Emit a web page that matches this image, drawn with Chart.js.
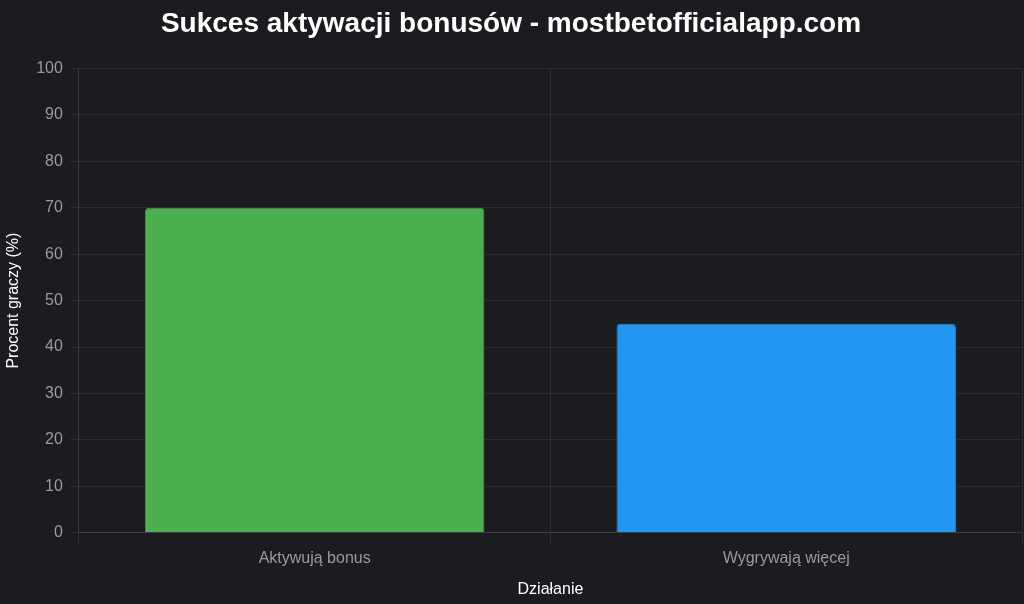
<!DOCTYPE html>
<html>
<head>
<meta charset="utf-8">
<script src="https://cdn.jsdelivr.net/npm/chart.js@4.4.0/dist/chart.umd.min.js"></script>
<style>
  html, body { margin: 0; padding: 0; background: #1b1c1f; }
  #wrap { width: 1024px; height: 604px; }
</style>
</head>
<body>
<div id="wrap"><canvas id="c" width="1024" height="604"></canvas></div>
<script>
const categories = ["Aktywują bonus", "Wygrywają więcej"];
const values = [70, 45];
const fillColors = ["#4caf50", "#2196f3"];
const borderColors = ["#3f9a43", "#1a82d6"];
const chartTitle = "Sukces aktywacji bonusów - mostbetofficialapp.com";
const xTitle = "Działanie";
const yTitle = "Procent graczy (%)";

const grid = "rgba(255,255,255,0.075)";
Chart.defaults.font.family = "'Liberation Sans', Arial, Helvetica, sans-serif";

new Chart(document.getElementById('c'), {
  type: 'bar',
  data: {
    labels: categories,
    datasets: [{
      data: values,
      backgroundColor: fillColors,
      borderColor: borderColors,
      borderWidth: 1,
      borderRadius: 4,
      borderSkipped: 'bottom'
    }]
  },
  options: {
    responsive: false,
    animation: false,
    layout: { padding: { left: 0, right: 2, top: 0, bottom: 1 } },
    plugins: {
      legend: { display: false },
      title: {
        display: true,
        text: chartTitle,
        color: '#ffffff',
        font: { size: 28, weight: 'bold' },
        padding: { top: 7, bottom: 28 }
      },
      tooltip: { enabled: false }
    },
    scales: {
      x: {
        grid: { color: grid, tickLength: 12 },
        border: { color: grid },
        ticks: { color: '#9a9a9a', font: { size: 16 }, padding: 4 },
        title: { display: true, text: xTitle, color: '#ffffff', font: { size: 16 }, padding: { top: 8 } }
      },
      y: {
        min: 0, max: 100,
        grid: { color: grid, tickLength: 9 },
        border: { color: grid },
        ticks: { stepSize: 10, color: '#9a9a9a', font: { size: 16 }, padding: 7 },
        title: { display: true, text: yTitle, color: '#ffffff', font: { size: 16 }, padding: { top: 4, bottom: 6 } }
      }
    }
  }
});
</script>
</body>
</html>
